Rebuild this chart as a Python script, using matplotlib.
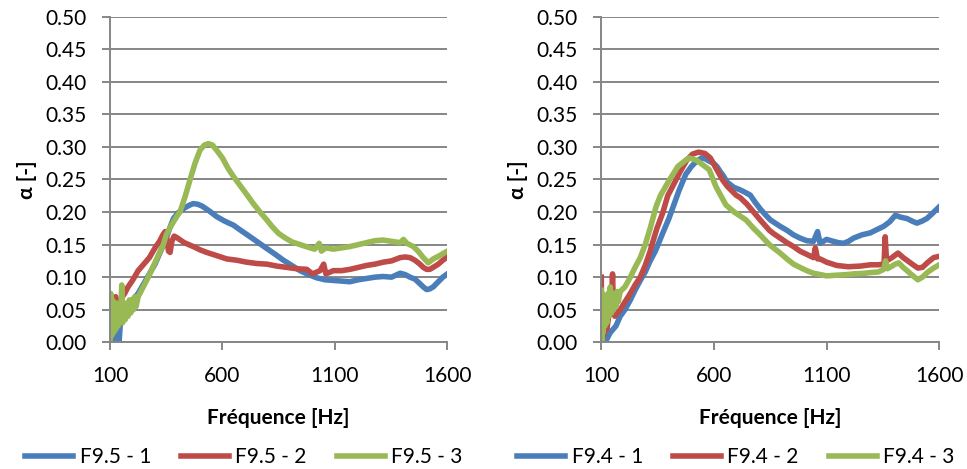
import matplotlib.pyplot as plt
from matplotlib.ticker import FormatStrFormatter

plt.rcParams['font.family'] = ['Lato', 'DejaVu Sans']

# --- F9.5 (gauche) ---
f95_1 = [100, 105, 110, 115, 120, 125, 130, 135, 140, 146, 155, 165, 180, 200, 225, 250, 275, 300, 325, 345,
         365, 382, 400, 430, 450, 470, 490, 510, 540, 574, 610, 648, 685, 723, 760, 797, 835, 871, 908,
         945, 982, 1019, 1056, 1093, 1130, 1167, 1204, 1241, 1278, 1315, 1352, 1390, 1412, 1434, 1456,
         1478, 1493, 1508, 1522, 1537, 1560, 1580, 1600]
a95_1 = [0.0, 0.03, 0.005, 0.035, 0.005, 0.04, 0.01, 0.04, 0.0, 0.03, 0.045, 0.05, 0.058, 0.065, 0.075,
         0.09, 0.105, 0.12, 0.14, 0.155, 0.175, 0.19, 0.198, 0.206, 0.21, 0.213, 0.212, 0.209, 0.202, 0.193,
         0.186, 0.18, 0.171, 0.162, 0.153, 0.144, 0.135, 0.126, 0.118, 0.11, 0.104, 0.099, 0.096, 0.095,
         0.094, 0.093, 0.096, 0.098, 0.1, 0.101, 0.1, 0.106, 0.104, 0.1, 0.097, 0.09, 0.085, 0.081, 0.082,
         0.085, 0.093, 0.1, 0.105]

f95_2 = [100, 104, 108, 112, 118, 125, 135, 145, 155, 165, 180, 200, 225, 250, 275, 300, 320, 335,
         345, 352, 360, 367, 375, 385, 396, 430, 470, 500, 530, 575, 619, 664, 708, 752, 797, 842, 886,
         930, 975, 1000, 1034, 1050, 1060, 1093, 1130, 1167, 1204, 1241, 1278, 1315, 1352, 1390, 1412,
         1434, 1456, 1478, 1493, 1508, 1522, 1537, 1560, 1580, 1600]
a95_2 = [0.0, 0.06, 0.02, 0.065, 0.055, 0.07, 0.06, 0.065, 0.07, 0.075, 0.085, 0.095, 0.11, 0.12,
         0.13, 0.145, 0.155, 0.165, 0.17, 0.16, 0.14, 0.138, 0.155, 0.163, 0.161, 0.153, 0.147, 0.142,
         0.138, 0.133, 0.128, 0.126, 0.123, 0.121, 0.12, 0.117, 0.115, 0.113, 0.112, 0.105, 0.11, 0.12,
         0.105, 0.11, 0.11, 0.112, 0.115, 0.118, 0.12, 0.123, 0.125, 0.13, 0.131, 0.13, 0.126, 0.12, 0.115,
         0.112, 0.112, 0.115, 0.12, 0.126, 0.131]

f95_3 = [100, 103, 107, 111, 116, 121, 126, 131, 136, 141, 146, 152, 156, 162, 168, 174, 180, 186, 192,
         198, 204, 210, 216, 225, 240, 255, 270, 290, 310, 337, 350, 365, 382, 400, 411, 435, 456, 478, 500,
         520, 537, 555, 574, 600, 625, 648, 680, 710, 737, 767, 797, 820, 850, 880, 910, 945, 980, 1010,
         1030, 1040, 1060, 1093, 1130, 1167, 1204, 1241, 1278, 1315, 1352, 1390, 1405, 1420, 1449, 1470,
         1493, 1515, 1537, 1560, 1580, 1600]
a95_3 = [0.0, 0.075, 0.01, 0.065, 0.015, 0.06, 0.02, 0.06, 0.025, 0.055, 0.03, 0.088, 0.03, 0.06, 0.035,
         0.06, 0.04, 0.065, 0.045, 0.065, 0.05, 0.07, 0.055, 0.07, 0.08, 0.09, 0.1, 0.115, 0.13, 0.15, 0.165,
         0.175, 0.185, 0.195, 0.2, 0.225, 0.25, 0.275, 0.295, 0.303, 0.305, 0.303, 0.295, 0.283, 0.267,
         0.255, 0.24, 0.226, 0.213, 0.2, 0.188, 0.178, 0.167, 0.16, 0.154, 0.15, 0.146, 0.143, 0.152, 0.14,
         0.145, 0.143, 0.145, 0.147, 0.15, 0.153, 0.156, 0.157, 0.155, 0.153, 0.158, 0.152, 0.147, 0.14,
         0.13, 0.122, 0.128, 0.132, 0.136, 0.14]

# --- F9.4 (droite) ---
f94_1 = [100, 103, 106, 110, 115, 125, 140, 165, 184, 205, 229, 250, 273, 295, 317, 340, 372, 400, 446,
         475, 500, 520, 545, 560, 580, 598, 613, 628, 643, 658, 688, 717, 740, 761, 783, 805, 828, 850,
         872, 894, 924, 953, 982, 1012, 1042, 1060, 1071, 1100, 1130, 1152, 1175, 1197, 1220, 1257, 1294,
         1323, 1353, 1380, 1405, 1430, 1457, 1480, 1501, 1523, 1545, 1570, 1600]
a94_1 = [0.02, 0.0, 0.03, 0.0, 0.02, 0.005, 0.015, 0.025, 0.04, 0.05, 0.065, 0.08, 0.095, 0.108, 0.125,
         0.14, 0.167, 0.19, 0.234, 0.258, 0.27, 0.277, 0.283, 0.282, 0.278, 0.275, 0.27, 0.262, 0.255,
         0.246, 0.238, 0.234, 0.23, 0.226, 0.215, 0.205, 0.196, 0.188, 0.183, 0.178, 0.172, 0.165, 0.16,
         0.156, 0.155, 0.17, 0.152, 0.158, 0.155, 0.153, 0.152, 0.155, 0.16, 0.165, 0.168, 0.173, 0.178,
         0.185, 0.195, 0.192, 0.19, 0.186, 0.183, 0.186, 0.19, 0.198, 0.208]

f94_2 = [100, 102, 104, 107, 110, 115, 125, 135, 145, 150, 154, 160, 184, 205, 229, 250, 273, 295, 317,
         325, 347, 372, 395, 431, 450, 480, 505, 532, 560, 584, 605, 639, 658, 698, 717, 747, 776, 805,
         846, 864, 894, 924, 953, 982, 1012, 1042, 1050, 1060, 1071, 1100, 1145, 1196, 1250, 1294, 1328,
         1355, 1360, 1366, 1390, 1417, 1440, 1460, 1480, 1505, 1525, 1550, 1575, 1600]
a94_2 = [0.1, 0.03, 0.0, 0.06, 0.01, 0.03, 0.02, 0.045, 0.06, 0.105, 0.05, 0.04, 0.05, 0.062, 0.075, 0.088,
         0.1, 0.118, 0.14, 0.15, 0.175, 0.198, 0.225, 0.249, 0.262, 0.28, 0.289, 0.292, 0.29, 0.283, 0.27,
         0.249, 0.24, 0.226, 0.222, 0.212, 0.2, 0.188, 0.172, 0.167, 0.16, 0.153, 0.147, 0.14, 0.135, 0.13,
         0.145, 0.128, 0.128, 0.123, 0.118, 0.116, 0.117, 0.119, 0.119, 0.12, 0.162, 0.125, 0.13, 0.137,
         0.13, 0.125, 0.12, 0.114, 0.115, 0.123, 0.13, 0.132]

f94_3 = [100, 102, 105, 108, 112, 116, 120, 125, 130, 135, 140, 145, 150, 155, 160, 165, 170, 175, 184,
         205, 229, 250, 273, 295, 317, 343, 362, 402, 440, 476, 490, 520, 545, 579, 609, 653, 690, 742,
         776, 805, 846, 864, 894, 924, 953, 982, 1012, 1042, 1071, 1100, 1145, 1190, 1220, 1270, 1294,
         1330, 1353, 1362, 1370, 1405, 1420, 1440, 1457, 1480, 1505, 1525, 1550, 1575, 1600]
a94_3 = [0.08, 0.0, 0.075, 0.015, 0.07, 0.025, 0.065, 0.03, 0.075, 0.04, 0.085, 0.045, 0.075, 0.05, 0.075,
         0.055, 0.078, 0.062, 0.078, 0.085, 0.1, 0.115, 0.13, 0.15, 0.175, 0.208, 0.225, 0.249, 0.27, 0.28,
         0.283, 0.28, 0.274, 0.265, 0.239, 0.211, 0.2, 0.188, 0.175, 0.165, 0.15, 0.145, 0.137, 0.128, 0.12,
         0.115, 0.11, 0.106, 0.104, 0.102, 0.103, 0.104, 0.105, 0.106, 0.107, 0.108, 0.112, 0.125, 0.113,
         0.12, 0.122, 0.115, 0.11, 0.103, 0.096, 0.1, 0.108, 0.114, 0.119]

couleurs = ['#4A7EBB', '#BE4B48', '#98B954']
gris = '#868686'

panneaux = [
    ([0.1138, 0.2702, 0.3488, 0.6942], [(f95_1, a95_1), (f95_2, a95_2), (f95_3, a95_3)],
     ['F9.5 - 1', 'F9.5 - 2', 'F9.5 - 3'], 244),
    ([0.6218, 0.2702, 0.3495, 0.6942], [(f94_1, a94_1), (f94_2, a94_2), (f94_3, a94_3)],
     ['F9.4 - 1', 'F9.4 - 2', 'F9.4 - 3'], 736),
]

fig = plt.figure(figsize=(9.67, 4.69), dpi=100)
for pos, series, noms, cx in panneaux:
    ax = fig.add_axes(pos)
    for (f, a), c, n in zip(series, couleurs, noms):
        ax.plot(f, a, color=c, lw=4.0, label=n, solid_joinstyle='round')
    ax.set_xlim(100, 1600)
    ax.set_ylim(0, 0.5)
    ax.set_xticks([100, 600, 1100, 1600])
    ax.set_yticks([i * 0.05 for i in range(11)])
    ax.yaxis.set_major_formatter(FormatStrFormatter('%.2f'))
    ax.grid(axis='y', color=gris, lw=1.4)
    ax.set_axisbelow(True)
    for s in ['top', 'right']:
        ax.spines[s].set_visible(False)
    for s in ['left', 'bottom']:
        ax.spines[s].set_color(gris)
        ax.spines[s].set_linewidth(1.4)
    ax.tick_params(axis='both', color=gris, width=1.4, length=6, labelsize=15)
    ax.tick_params(axis='y', pad=11)
    ax.tick_params(axis='x', pad=11)
    ax.set_xlabel('Fréquence [Hz]', fontsize=15, fontweight='bold', labelpad=16)
    ax.set_ylabel('α [-]', fontsize=15, fontweight='bold', labelpad=6)
    ax.legend(loc='center', bbox_to_anchor=(cx / 967, 1 - 457 / 469), bbox_transform=fig.transFigure,
              ncol=3, frameon=False, fontsize=15, handlelength=2.3, handletextpad=0.3,
              columnspacing=1.45)

fig.savefig('out.png', dpi=100)
